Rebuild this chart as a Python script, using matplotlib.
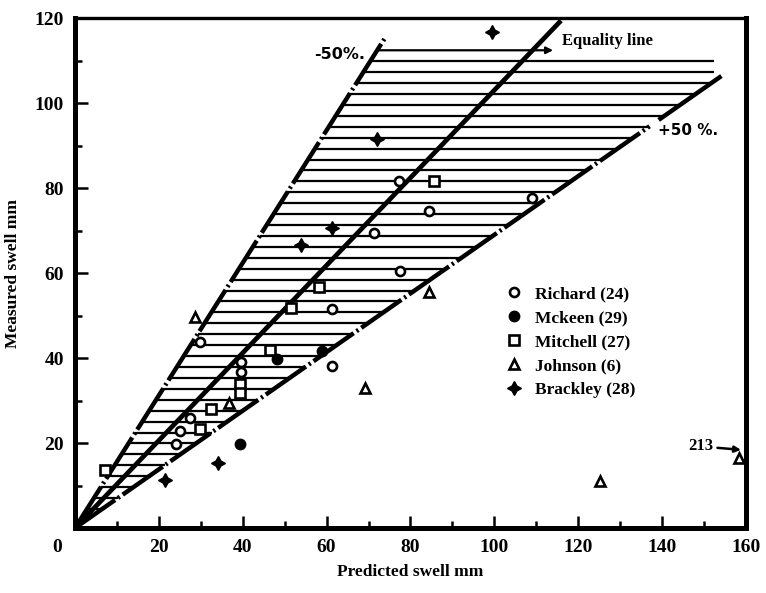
"""
Measured vs predicted swell, with the +/-50 % band around the equality line.
Writes out.png (766x593).
"""
import matplotlib
matplotlib.use("Agg")
import matplotlib.pyplot as plt
import numpy as np
from matplotlib.transforms import ScaledTranslation

# ---- data (predicted mm, measured mm) ----
richard_x = [29.7, 24.1, 25.1, 27.4, 39.6, 39.6, 61.3, 61.3, 77.2, 84.5, 109.0, 71.4, 77.4]
richard_y = [43.8, 19.8, 22.8, 25.8, 39.0, 36.7, 38.1, 51.5, 81.7, 74.7, 77.6, 69.4, 60.5]

mckeen_x = [39.4, 48.1, 59.0]
mckeen_y = [19.7, 39.8, 41.7]

mitchell_x = [7.2, 29.7, 32.4, 39.4, 39.4, 46.5, 51.5, 58.1, 85.5]
mitchell_y = [13.6, 23.2, 28.1, 33.9, 31.8, 41.8, 51.7, 56.8, 81.7]

johnson_x = [28.6, 36.8, 69.2, 84.3, 125.1, 158.3]
johnson_y = [49.7, 29.4, 32.9, 55.6, 11.0, 16.5]

brackley_x = [21.5, 34.2, 53.9, 61.2, 72.0, 99.4]
brackley_y = [11.4, 15.3, 66.5, 70.7, 91.5, 116.8]

# band edges (slope of measured/predicted) and their end points
minus50_slope, minus50_xend = 1.56, 74.0
plus50_slope, plus50_xend = 0.69, 153.7
plus50_gap = (137.0, 139.6)
equality_end = (115.5, 119.0)

SERIF = "Liberation Serif"

fig = plt.figure(figsize=(7.66, 5.93), dpi=100)
ax = fig.add_axes([0.0979, 0.1096, 0.876, 0.860])
ax.set_xlim(0, 160)
ax.set_ylim(0, 120)

# ---- hatched band: horizontal strokes between the two edges ----
hatch_y = 1.9 + 2.57 * np.arange(43)
hatch_x0 = hatch_y / minus50_slope
hatch_x1 = np.minimum(hatch_y / plus50_slope, 152.3)
ax.hlines(hatch_y, hatch_x0, hatch_x1, color="black", lw=1.6, zorder=1)
# top stroke doubles as the "Equality line" pointer
top_y = 1.9 + 2.57 * 43
ax.annotate("", xy=(114.0, top_y), xytext=(top_y / minus50_slope, top_y),
            arrowprops=dict(arrowstyle="-|>", color="black", lw=1.6,
                            mutation_scale=10, shrinkA=0, shrinkB=0), zorder=1)

dashdot = (0, (11, 0.8, 0.5, 0.8))
ax.plot([0, minus50_xend], [0, minus50_slope * minus50_xend],
        color="black", lw=3.2, ls=dashdot, zorder=2)
ax.plot([0, plus50_gap[0]], [0, plus50_slope * plus50_gap[0]],
        color="black", lw=3.2, ls=dashdot, zorder=2)
ax.plot([plus50_gap[1], plus50_xend],
        [plus50_slope * plus50_gap[1], plus50_slope * plus50_xend],
        color="black", lw=3.2, zorder=2)
ax.plot([0, equality_end[0]], [0, equality_end[1]], color="black", lw=3.4, zorder=2)

# ---- points ----
ax.plot(richard_x, richard_y, "o", ms=6.5, mfc="white", mec="black", mew=1.9,
        zorder=3, label="Richard (24)")
ax.plot(mckeen_x, mckeen_y, "o", ms=7.5, mfc="black", mec="black",
        zorder=3, label="Mckeen (29)")
ax.plot(mitchell_x, mitchell_y, "s", ms=6.5, mfc="white", mec="black", mew=1.9,
        zorder=3, label="Mitchell (27)")
ax.plot(johnson_x, johnson_y, "^", ms=7.5, mfc="white", mec="black", mew=1.9,
        zorder=3, label="Johnson (6)")
ax.plot(brackley_x, brackley_y, marker=(4, 1, 0), ls="none", ms=10,
        mfc="black", mec="black", zorder=3, label="Brackley (28)")

ax.legend(loc="upper left", bbox_to_anchor=(0.628, 0.491), frameon=False,
          borderpad=0, handlelength=1.0, handletextpad=0.7, labelspacing=0.45,
          prop={"family": SERIF, "weight": "bold", "size": 12.5})

# ---- annotations ----
ax.text(69.2, 111.4, "-50%.", ha="right", va="center",
        fontsize=11.5, fontweight="bold", family="DejaVu Sans")
ax.text(139.1, 93.6, "+50 %.", ha="left", va="center",
        fontsize=11, fontweight="bold", family="DejaVu Sans")
ax.text(116.2, 114.5, "Equality line", ha="left", va="center",
        fontsize=12, fontweight="bold", family=SERIF)
ax.annotate("213", xy=(158.8, 18.4), xytext=(152.2, 19.2), ha="right", va="center",
            fontsize=12, fontweight="bold", family=SERIF,
            arrowprops=dict(arrowstyle="-|>", color="black", lw=1.8,
                            mutation_scale=9, shrinkA=1, shrinkB=0))

# ---- axes styling ----
for side, lw in [("left", 3.6), ("bottom", 3.6), ("right", 3.6), ("top", 2.4)]:
    ax.spines[side].set_linewidth(lw)

ax.set_xticks(np.arange(0, 161, 20))
ax.set_xticks(np.arange(10, 160, 20), minor=True)
ax.set_yticks(np.arange(0, 121, 20))
ax.set_yticks(np.arange(10, 120, 20), minor=True)
ax.set_yticklabels([""] + [str(v) for v in range(20, 121, 20)])
ax.tick_params(which="major", direction="in", length=9, width=1.8, pad=8)
ax.tick_params(which="minor", direction="in", length=5, width=1.8)
for lab in ax.get_xticklabels() + ax.get_yticklabels():
    lab.set_family(SERIF)
    lab.set_fontweight("bold")
    lab.set_fontsize(14)
# the origin's "0" sits left of the corner in the original
zero = ax.get_xticklabels()[0]
zero.set_transform(zero.get_transform() + ScaledTranslation(-0.18, 0, fig.dpi_scale_trans))

ax.set_xlabel("Predicted swell mm", family=SERIF, fontweight="bold", fontsize=12.5,
              labelpad=6)
ax.set_ylabel("Measured swell mm", family=SERIF, fontweight="bold", fontsize=12.5,
              labelpad=10)

fig.savefig("out.png", dpi=100)
